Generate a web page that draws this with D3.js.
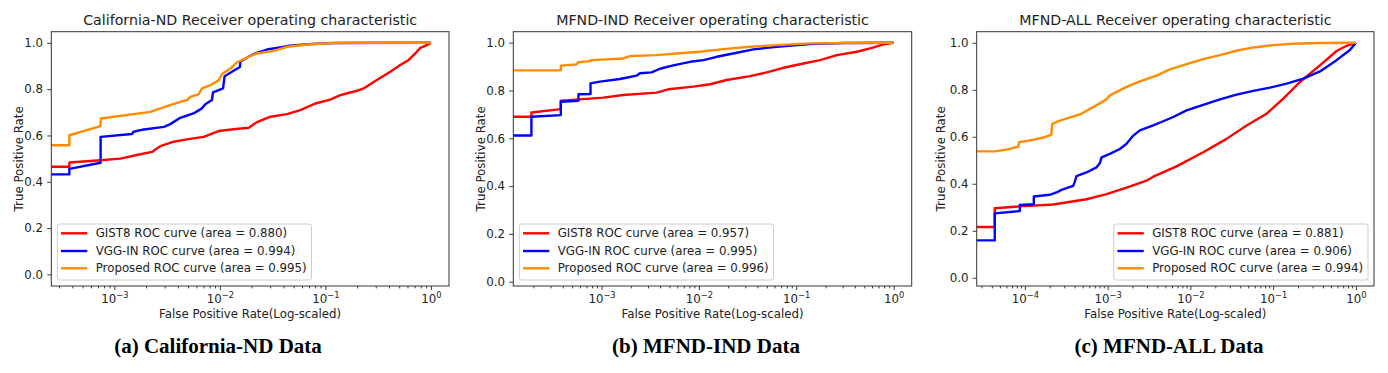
<!DOCTYPE html>
<html>
<head>
<meta charset="utf-8">
<script src="https://cdn.jsdelivr.net/npm/d3@7"></script>
<style>
body { margin: 0; background: #fff; }
svg { display: block; }
text { font-family: "DejaVu Sans", sans-serif; fill: #222; }
.caption { font-family: "Liberation Serif", "Times New Roman", serif; font-weight: bold; font-size: 21px; fill: #000; }
</style>
</head>
<body>
<svg id="chart" width="1388" height="373"></svg>
<script>
// curves: [log10(FPR), TPR], null = FPR of 0 (left edge)
var calGist = [[null, 0.465], [-3.426, 0.465], [-3.426, 0.483], [-3.133, 0.493], [-2.943, 0.500], [-2.754, 0.519],
    [-2.643, 0.529], [-2.564, 0.554], [-2.438, 0.573], [-2.312, 0.583], [-2.154, 0.594], [-2.012, 0.619],
    [-1.87, 0.627], [-1.727, 0.633], [-1.648, 0.658], [-1.52, 0.681], [-1.364, 0.692], [-1.238, 0.709],
    [-1.096, 0.738], [-0.954, 0.755], [-0.859, 0.774], [-0.701, 0.793], [-0.638, 0.803], [-0.512, 0.839],
    [-0.385, 0.875], [-0.291, 0.904], [-0.212, 0.925], [-0.148, 0.954], [-0.101, 0.978], [-0.054, 0.987], [0, 1.0]];
var calVgg = [[null, 0.432], [-3.426, 0.432], [-3.426, 0.456], [-3.13, 0.482], [-3.13, 0.594], [-2.833, 0.606],
    [-2.817, 0.616], [-2.72, 0.626], [-2.53, 0.637], [-2.47, 0.649], [-2.375, 0.676], [-2.25, 0.695],
    [-2.17, 0.717], [-2.138, 0.735], [-2.075, 0.753], [-2.065, 0.786], [-1.97, 0.803], [-1.955, 0.856],
    [-1.87, 0.879], [-1.81, 0.896], [-1.806, 0.918], [-1.73, 0.940], [-1.65, 0.957], [-1.554, 0.971],
    [-1.36, 0.986], [-1.175, 0.994], [-0.92, 0.999], [0, 1.0]];
var calProp = [[null, 0.558], [-3.426, 0.558], [-3.426, 0.601], [-3.133, 0.640], [-3.127, 0.673], [-2.659, 0.702],
    [-2.501, 0.727], [-2.375, 0.745], [-2.312, 0.753], [-2.28, 0.767], [-2.201, 0.778], [-2.17, 0.803],
    [-2.09, 0.817], [-2.01, 0.839], [-1.98, 0.865], [-1.90, 0.889], [-1.84, 0.915], [-1.74, 0.937],
    [-1.65, 0.954], [-1.49, 0.965], [-1.36, 0.983], [-1.175, 0.993], [-0.92, 0.999], [-0.6, 1.0], [0, 1.0]];

var indGist = [[null, 0.690], [-3.72, 0.690], [-3.72, 0.708], [-3.418, 0.722], [-3.418, 0.757], [-3.223, 0.763],
    [-2.983, 0.770], [-2.777, 0.781], [-2.434, 0.791], [-2.314, 0.805], [-2.057, 0.816], [-1.886, 0.826],
    [-1.714, 0.844], [-1.474, 0.860], [-1.303, 0.876], [-1.132, 0.895], [-0.926, 0.913], [-0.755, 0.927],
    [-0.583, 0.948], [-0.377, 0.962], [-0.24, 0.976], [-0.103, 0.993], [0, 1.0]];
var indVgg = [[null, 0.612], [-3.72, 0.612], [-3.72, 0.690], [-3.418, 0.697], [-3.418, 0.753], [-3.237, 0.757],
    [-3.237, 0.784], [-3.113, 0.785], [-3.113, 0.830], [-3.017, 0.837], [-2.81, 0.848], [-2.64, 0.862],
    [-2.606, 0.872], [-2.486, 0.876], [-2.4, 0.891], [-2.263, 0.905], [-2.09, 0.920], [-1.952, 0.927],
    [-1.817, 0.941], [-1.61, 0.958], [-1.44, 0.972], [-1.2, 0.983], [-0.857, 0.994], [-0.514, 0.999], [0, 1.0]];
var indProp = [[null, 0.884], [-3.418, 0.884], [-3.418, 0.904], [-3.257, 0.909], [-3.24, 0.918], [-3.12, 0.923],
    [-3.103, 0.927], [-2.777, 0.934], [-2.709, 0.944], [-2.434, 0.948], [-2.229, 0.955], [-1.989, 0.962],
    [-1.749, 0.973], [-1.474, 0.983], [-1.2, 0.990], [-0.857, 0.997], [0, 1.0]];

var allGist = [[null, 0.216], [-4.363, 0.216], [-4.363, 0.296], [-4.06, 0.304], [-3.658, 0.312], [-3.255, 0.334],
    [-3.013, 0.356], [-2.771, 0.384], [-2.53, 0.413], [-2.449, 0.430], [-2.167, 0.474], [-1.845, 0.534],
    [-1.563, 0.591], [-1.321, 0.648], [-1.08, 0.698], [-0.878, 0.762], [-0.677, 0.833], [-0.435, 0.904],
    [-0.234, 0.965], [-0.113, 0.987], [0, 1.0]];
var allVgg = [[null, 0.159], [-4.363, 0.159], [-4.363, 0.274], [-4.06, 0.284], [-4.06, 0.310], [-3.891, 0.313],
    [-3.891, 0.346], [-3.7, 0.353], [-3.617, 0.363], [-3.557, 0.374], [-3.496, 0.381], [-3.416, 0.391],
    [-3.40, 0.405], [-3.376, 0.432], [-3.255, 0.448], [-3.134, 0.470], [-3.094, 0.487], [-3.073, 0.512],
    [-2.973, 0.527], [-2.852, 0.548], [-2.771, 0.570], [-2.69, 0.605], [-2.61, 0.627], [-2.449, 0.648],
    [-2.328, 0.666], [-2.207, 0.684], [-2.046, 0.712], [-1.845, 0.736], [-1.643, 0.759], [-1.442, 0.779],
    [-1.24, 0.795], [-1.039, 0.809], [-0.838, 0.826], [-0.636, 0.847], [-0.435, 0.878], [-0.234, 0.926],
    [-0.073, 0.969], [0, 1.0]];
var allProp = [[null, 0.538], [-4.363, 0.538], [-4.22, 0.545], [-4.08, 0.558], [-4.068, 0.577], [-3.9, 0.587],
    [-3.76, 0.598], [-3.68, 0.609], [-3.668, 0.655], [-3.577, 0.669], [-3.335, 0.695], [-3.174, 0.726],
    [-3.013, 0.759], [-2.973, 0.776], [-2.771, 0.812], [-2.61, 0.836], [-2.409, 0.860], [-2.248, 0.887],
    [-2.046, 0.909], [-1.845, 0.930], [-1.643, 0.947], [-1.442, 0.966], [-1.24, 0.980], [-1.0, 0.990],
    [-0.757, 0.996], [-0.435, 0.999], [0, 1.0]];

var seriesNames = ["GIST8", "VGG-IN", "Proposed"];
var seriesColors = ["red", "blue", "darkorange"];
var titles = ["California-ND Receiver operating characteristic", "MFND-IND Receiver operating characteristic",
    "MFND-ALL Receiver operating characteristic"];
var captions = ["(a) California-ND Data", "(b) MFND-IND Data", "(c) MFND-ALL Data"];
var areas = [["0.880", "0.994", "0.995"], ["0.957", "0.995", "0.996"], ["0.881", "0.906", "0.994"]];
var yTicks = [0.0, 0.2, 0.4, 0.6, 0.8, 1.0];
var yDomains = [[-0.05, 1.048], [-0.018, 1.046], [-0.035, 1.047]];
var curves = [[calGist, calVgg, calProp], [indGist, indVgg, indProp], [allGist, allVgg, allProp]];

// panel boxes in pixels
var panels = [
    {left: 51.3, right: 449, top: 31.7, bottom: 286, yLabelX: 23, legend: "left", capX: 218},
    {left: 513.3, right: 911.7, top: 31.7, bottom: 286, yLabelX: 485, legend: "left", capX: 706},
    {left: 976.7, right: 1374, top: 31.7, bottom: 286, yLabelX: 945, legend: "right", capX: 1169}
];

var svg = d3.select("#chart");
var fs = 11.8;

panels.forEach(function(p, i) {
    var g = svg.append("g");

    // log x domain like matplotlib: 5% margin around the smallest positive FPR and 1
    var lo = d3.min(curves[i], function(c) { return d3.min(c, function(d) { return d[0]; }); });
    var span = 0 - lo;
    var x = d3.scaleLog()
        .domain([Math.pow(10, lo - 0.05 * span), Math.pow(10, 0.05 * span)])
        .range([p.left, p.right]);
    var y = d3.scaleLinear()
        .domain(yDomains[i])
        .range([p.bottom, p.top]);

    g.append("clipPath").attr("id", "clip" + i)
        .append("rect")
        .attr("x", p.left).attr("y", p.top)
        .attr("width", p.right - p.left).attr("height", p.bottom - p.top);

    var line = d3.line()
        .x(function(d) { return d[0] === null ? p.left - 20 : x(Math.pow(10, d[0])); })
        .y(function(d) { return y(d[1]); });

    g.append("g").attr("clip-path", "url(#clip" + i + ")")
        .selectAll("path")
        .data(curves[i])
        .enter().append("path")
        .attr("d", line)
        .attr("fill", "none")
        .attr("stroke", function(d, k) { return seriesColors[k]; })
        .attr("stroke-width", 2.4)
        .attr("stroke-linejoin", "round");

    // y axis
    var ya = g.append("g")
        .attr("transform", "translate(" + p.left + ",0)")
        .call(d3.axisLeft(y).tickValues(yTicks).tickSize(4.1).tickPadding(4.1).tickFormat(d3.format(".1f")));
    ya.select(".domain").remove();
    ya.selectAll("text").style("font-size", fs + "px").style("font-family", "DejaVu Sans");

    // x axis, majors and minors
    var all = x.ticks();
    var majors = all.filter(function(t) { return Math.abs(Math.log10(t) - Math.round(Math.log10(t))) < 1e-9; });
    var minors = all.filter(function(t) { return majors.indexOf(t) < 0; });

    var xm = g.append("g")
        .attr("transform", "translate(0," + p.bottom + ")")
        .call(d3.axisBottom(x).tickValues(minors).tickSize(2.4).tickFormat(""));
    xm.select(".domain").remove();

    var xa = g.append("g")
        .attr("transform", "translate(0," + p.bottom + ")")
        .call(d3.axisBottom(x).tickValues(majors).tickSize(4.1).tickPadding(4.1));
    xa.select(".domain").remove();
    xa.selectAll(".tick text").each(function(t) {
        var e = Math.round(Math.log10(t));
        var s = d3.select(this).text(null).style("font-size", fs + "px").style("font-family", "DejaVu Sans");
        s.append("tspan").text("10");
        s.append("tspan").attr("dy", "-5").style("font-size", "8.3px").text(e < 0 ? "\u2212" + (-e) : "" + e);
    });
    g.selectAll(".tick line").attr("stroke", "#333").attr("stroke-width", 0.95);

    // frame
    g.append("rect")
        .attr("x", p.left).attr("y", p.top)
        .attr("width", p.right - p.left).attr("height", p.bottom - p.top)
        .attr("fill", "none").attr("stroke", "#333").attr("stroke-width", 1);

    g.append("text")
        .attr("x", (p.left + p.right) / 2).attr("y", p.top - 7)
        .attr("text-anchor", "middle").style("font-size", "14.2px")
        .text(titles[i]);

    g.append("text")
        .attr("x", (p.left + p.right) / 2).attr("y", 318)
        .attr("text-anchor", "middle").style("font-size", fs + "px")
        .text("False Positive Rate(Log-scaled)");

    g.append("text")
        .attr("transform", "translate(" + p.yLabelX + "," + (p.top + p.bottom) / 2 + ") rotate(-90)")
        .attr("text-anchor", "middle").style("font-size", fs + "px")
        .text("True Positive Rate");

    // legend
    var leg = g.append("g");
    var box = leg.append("rect");
    var texts = leg.selectAll("text.leg")
        .data(seriesNames)
        .enter().append("text")
        .attr("class", "leg")
        .style("font-size", fs + "px")
        .attr("dy", "0.35em")
        .text(function(d, k) { return d + " ROC curve (area = " + areas[i][k] + ")"; });
    var tw = 0;
    texts.each(function() { tw = Math.max(tw, this.getComputedTextLength()); });
    var bw = 38.4 + tw + 4.8, bh = 56;
    var bx = p.legend === "left" ? p.left + 6 : p.right - 6 - bw;
    var by = p.bottom - 6 - bh;
    box.attr("x", bx).attr("y", by).attr("width", bw).attr("height", bh).attr("rx", 2.5)
        .attr("fill", "#fff").attr("fill-opacity", 0.8).attr("stroke", "#ccc").attr("stroke-width", 1);
    var rows = [9.3, 27, 44.3];
    texts.attr("x", bx + 38.4).attr("y", function(d, k) { return by + rows[k]; });
    leg.selectAll("line")
        .data(seriesNames)
        .enter().append("line")
        .attr("x1", bx + 3.7).attr("x2", bx + 30)
        .attr("y1", function(d, k) { return by + rows[k]; })
        .attr("y2", function(d, k) { return by + rows[k]; })
        .attr("stroke", function(d, k) { return seriesColors[k]; })
        .attr("stroke-width", 2.4);

    svg.append("text")
        .attr("class", "caption")
        .attr("x", p.capX).attr("y", 353)
        .attr("text-anchor", "middle")
        .text(captions[i]);
});
</script>
</body>
</html>
